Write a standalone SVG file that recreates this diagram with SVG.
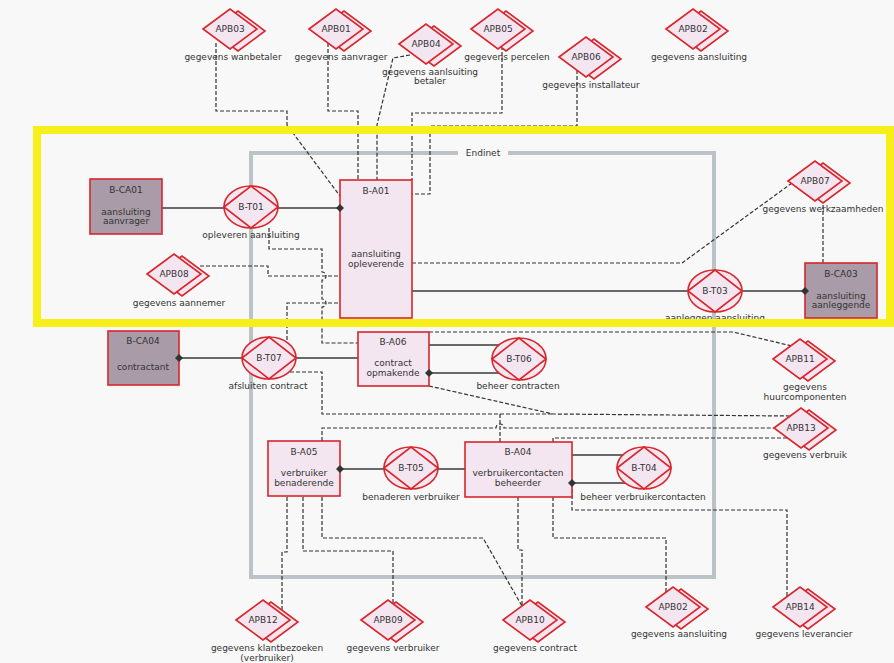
<svg xmlns="http://www.w3.org/2000/svg" xmlns:xlink="http://www.w3.org/1999/xlink" width="894" height="663" viewBox="0 0 894 663">
<style>
text{font-family:"DejaVu Sans",Verdana,sans-serif;font-size:9px;fill:#333;text-anchor:middle}
.box{fill:#f4e6f0;stroke:#d8262c;stroke-width:1.6}
.ca{fill:#a99ca8;stroke:#d8262c;stroke-width:1.6}
.tn{fill:#f4e6f0;stroke:#d8262c;stroke-width:1.6}
.dd{fill:#f4e6f0;stroke:#d8262c;stroke-width:1.6}
.sol{fill:none;stroke:#3a3a3a;stroke-width:1.3}
.dash{fill:none;stroke:#333;stroke-width:1.2;stroke-dasharray:4,2}
.frame{fill:none;stroke:#bcc3c7;stroke-width:4}
.hl{fill:none;stroke:#f6ef1a;stroke-width:8}
</style>
<defs>
<g id="apb">
<path class="dd" d="M-19,2 L8,-18 L35,2 L8,22 Z"/>
<path class="dd" d="M-27,0 L0,-20 L27,0 L0,20 Z"/>
</g>
<g id="tnode">
<ellipse class="tn" cx="0" cy="0" rx="27" ry="21"/>
<path class="tn" d="M-27,0 L0,-21 L27,0 L0,21 Z"/>
</g>
<path id="dm" d="M-4,0 L0,-4 L4,0 L0,4 Z" fill="#333"/>
</defs>
<rect width="894" height="663" fill="#f8f8f8"/>

<path class="frame" d="M458,153 H251 V577 H714 V153 H508"/>
<text x="483" y="156">Endinet</text>

<g id="connectors">
<path class="sol" d="M162,208 H224 M278,208 H340"/>
<path class="sol" d="M412,291 H688 M743,291 H805"/>
<path class="sol" d="M179,358 H242 M296,358 H358"/>
<path class="sol" d="M429,345 H500 M429,373 H500"/>
<path class="sol" d="M340,469 H385 M438,469 H465"/>
<path class="sol" d="M572,455 H625 M572,483 H625"/>
<path class="dash" d="M216,43 V111 H287 V125 L340,196"/>
<path class="dash" d="M328,43 V111 H358 V180"/>
<path class="dash" d="M410,55 L393,58 L377,125 V180"/>
<path class="dash" d="M502,46 V113 H412 V180"/>
<path class="dash" d="M577,70 V126 H430 V194 H412"/>
<path class="dash" d="M792,183 L682,263 H412"/>
<path class="dash" d="M823,199 V263"/>
<path class="dash" d="M200,266 H268 V276 H340"/>
<path class="dash" d="M287,340 V303 H340"/>
<path class="dash" d="M269,228 V249 H322 V272 a4,4 0 0 1 0,8 V299 a4,4 0 0 1 0,8 V343 H358"/>
<path class="dash" d="M429,332 H733 L792,346"/>
<path class="dash" d="M429,386 L553,414 L792,416"/>
<path class="dash" d="M290,372 H322 V414 H553"/>
<path class="dash" d="M322,441 V428 H496 a4,4 0 0 1 8,0 H774"/>
<path class="dash" d="M500,442 V414"/>
<path class="dash" d="M553,442 V438 H788"/>
<path class="dash" d="M572,483 V510 H787 V597"/>
<path class="dash" d="M553,497 V538 H666 V593"/>
<path class="dash" d="M518,497 V550 H522 V606"/>
<path class="dash" d="M322,497 V538 H483 L522,606"/>
<path class="dash" d="M303,497 V551 H393 V604"/>
<path class="dash" d="M287,497 V552 H282 V610"/>
</g>

<g id="B-CA01"><rect class="ca" x="90" y="179" width="72" height="55"/><text x="126" y="193">B-CA01</text><text x="126" y="215">aansluiting</text><text x="126" y="224">aanvrager</text></g>
<g id="B-T01"><use xlink:href="#tnode" x="251" y="207"/><text x="251" y="210">B-T01</text><text x="251" y="238">opleveren aansluiting</text></g>
<g id="B-A01"><rect class="box" x="340" y="180" width="72" height="138"/><text x="376" y="194">B-A01</text><text x="376" y="257">aansluiting</text><text x="376" y="267">opleverende</text><use xlink:href="#dm" x="340" y="208"/></g>
<g id="B-T03"><use xlink:href="#tnode" x="715" y="291"/><text x="715" y="294">B-T03</text><text x="715" y="321">aanleggen aansluiting</text></g>
<g id="B-CA03"><rect class="ca" x="805" y="263" width="72" height="55"/><text x="841" y="277">B-CA03</text><text x="841" y="299">aansluiting</text><text x="841" y="308">aanleggende</text><use xlink:href="#dm" x="805" y="291"/></g>
<g id="B-CA04"><rect class="ca" x="108" y="331" width="71" height="54"/><text x="143" y="344">B-CA04</text><text x="143" y="370">contractant</text><use xlink:href="#dm" x="179" y="358"/></g>
<g id="B-T07"><use xlink:href="#tnode" x="269" y="358"/><text x="269" y="361">B-T07</text><text x="268" y="389">afsluiten contract</text></g>
<g id="B-A06"><rect class="box" x="358" y="332" width="71" height="54"/><text x="393" y="345">B-A06</text><text x="393" y="366">contract</text><text x="393" y="376">opmakende</text><use xlink:href="#dm" x="429" y="373"/></g>
<g id="B-T06"><use xlink:href="#tnode" x="519" y="359"/><text x="519" y="362">B-T06</text><text x="518" y="389">beheer contracten</text></g>
<g id="B-A05"><rect class="box" x="268" y="441" width="72" height="55"/><text x="304" y="455">B-A05</text><text x="304" y="476">verbruiker</text><text x="304" y="486">benaderende</text><use xlink:href="#dm" x="340" y="469"/></g>
<g id="B-T05"><use xlink:href="#tnode" x="411" y="468"/><text x="411" y="471">B-T05</text><text x="411" y="500">benaderen verbruiker</text></g>
<g id="B-A04"><rect class="box" x="465" y="442" width="107" height="55"/><text x="518" y="455">B-A04</text><text x="518" y="476">verbruikercontacten</text><text x="518" y="486">beheerder</text><use xlink:href="#dm" x="572" y="483"/></g>
<g id="B-T04"><use xlink:href="#tnode" x="644" y="468"/><text x="644" y="471">B-T04</text><text x="643" y="500">beheer verbruikercontacten</text></g>

<g id="APB03"><use xlink:href="#apb" x="230" y="29"/><text x="230" y="32">APB03</text><text x="233" y="60">gegevens wanbetaler</text></g>
<g id="APB01"><use xlink:href="#apb" x="336" y="29"/><text x="336" y="32">APB01</text><text x="341" y="60">gegevens aanvrager</text></g>
<g id="APB04"><use xlink:href="#apb" x="426" y="44"/><text x="426" y="47">APB04</text><text x="430" y="75">gegevens aanlsuiting</text><text x="430" y="84">betaler</text></g>
<g id="APB05"><use xlink:href="#apb" x="498" y="29"/><text x="498" y="32">APB05</text><text x="507" y="60">gegevens percelen</text></g>
<g id="APB06"><use xlink:href="#apb" x="586" y="57"/><text x="586" y="60">APB06</text><text x="591" y="88">gegevens installateur</text></g>
<g id="APB02a"><use xlink:href="#apb" x="693" y="29"/><text x="693" y="32">APB02</text><text x="699" y="60">gegevens aansluiting</text></g>
<g id="APB07"><use xlink:href="#apb" x="815" y="181"/><text x="815" y="184">APB07</text><text x="823" y="212">gegevens werkzaamheden</text></g>
<g id="APB08"><use xlink:href="#apb" x="174" y="274"/><text x="174" y="277">APB08</text><text x="179" y="306">gegevens aannemer</text></g>
<g id="APB11"><use xlink:href="#apb" x="800" y="359"/><text x="800" y="362">APB11</text><text x="805" y="390">gegevens</text><text x="805" y="400">huurcomponenten</text></g>
<g id="APB13"><use xlink:href="#apb" x="801" y="428"/><text x="801" y="431">APB13</text><text x="805" y="458">gegevens verbruik</text></g>
<g id="APB12"><use xlink:href="#apb" x="263" y="620"/><text x="263" y="623">APB12</text><text x="267" y="651">gegevens klantbezoeken</text><text x="267" y="661">(verbruiker)</text></g>
<g id="APB09"><use xlink:href="#apb" x="388" y="620"/><text x="388" y="623">APB09</text><text x="393" y="651">gegevens verbruiker</text></g>
<g id="APB10"><use xlink:href="#apb" x="530" y="620"/><text x="530" y="623">APB10</text><text x="535" y="651">gegevens contract</text></g>
<g id="APB02b"><use xlink:href="#apb" x="673" y="607"/><text x="673" y="610">APB02</text><text x="679" y="637">gegevens aansluiting</text></g>
<g id="APB14"><use xlink:href="#apb" x="800" y="607"/><text x="800" y="610">APB14</text><text x="804" y="637">gegevens leverancier</text></g>

<rect class="hl" x="37" y="130" width="853" height="193"/>
</svg>
